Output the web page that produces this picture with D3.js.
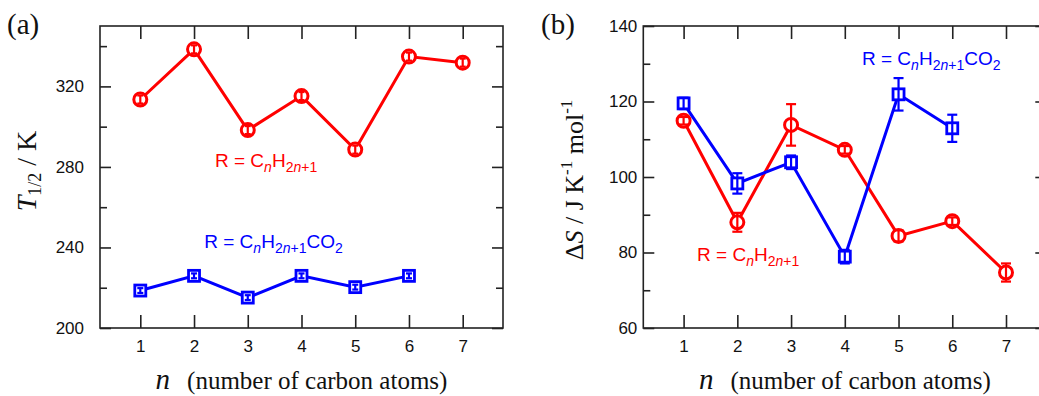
<!DOCTYPE html>
<meta charset="utf-8">
<script src="https://d3js.org/d3.v7.min.js"></script>
<style>
  body { margin: 0; background: #fff; }
  .tick text { font-family: "Liberation Sans", Arial, sans-serif; font-size: 17px; fill: #111; }
</style>
<div id="my_dataviz"></div>
<script>

  // n = number of carbon atoms
  var nVals = [1, 2, 3, 4, 5, 6, 7];
  var nValsAcid = [1, 2, 3, 4, 5, 6];

  // (a) T1/2 in K
  var tHalfAlkyl = [313.5, 338.4, 298.3, 315.2, 288.6, 334.8, 331.8];
  var tHalfAlkylErr = [2, 2, 2, 2, 2, 2, 2];
  var tHalfAcid = [218.6, 225.9, 215.1, 225.9, 220.3, 225.9];
  var tHalfAcidErr = [1.2, 1.2, 1.2, 1.2, 1.2, 1.2];

  // (b) delta S in J K-1 mol-1
  var dSAlkyl = [114.9, 88.0, 113.8, 107.2, 84.4, 88.3, 74.7];
  var dSAlkylErr = [1.0, 2.5, 5.5, 1.0, 1.5, 1.0, 2.4];
  var dSAcid = [119.5, 98.3, 103.9, 78.9, 121.9, 112.9];
  var dSAcidErr = [1.5, 2.7, 1.8, 1.8, 4.3, 3.6];

  var yTicksA = [200, 240, 280, 320];
  var yMinorA = [220, 260, 300, 340];
  var yTicksB = [60, 80, 100, 120, 140];
  var yMinorB = [70, 90, 110, 130];

  var RED = "#ff0000", BLUE = "#0000ff";
  var serif = "'Liberation Serif', 'Times New Roman', serif";
  var sans = "'Liberation Sans', Arial, sans-serif";

  var svg = d3.select("#my_dataviz")
    .append("svg")
    .attr("width", 1039)
    .attr("height", 396)
    .style("display", "block");

  function zip(xs, ys, es) {
    return xs.map(function (x, i) { return { x: x, y: ys[i], e: es[i] }; });
  }

  function drawPanel(opt) {
    var width = 403, height = 302;
    var g = svg.append("g")
      .attr("transform", "translate(" + opt.left + "," + opt.top + ")");

    var x = d3.scaleLinear().domain([0.25, 7.75]).range([0, width]);
    var y = d3.scaleLinear().domain(opt.yDomain).range([height, 0]);

    // ticks, all pointing inward
    var axes = [
      [d3.axisBottom(x).tickValues(nVals).tickSizeInner(-13).tickSizeOuter(0).tickPadding(12), "translate(0," + height + ")"],
      [d3.axisTop(x).tickValues(nVals).tickSizeInner(-13).tickSizeOuter(0).tickFormat(""), null],
      [d3.axisLeft(y).tickValues(opt.yTicks).tickSizeInner(-11).tickSizeOuter(0).tickPadding(opt.yPad), null],
      [d3.axisLeft(y).tickValues(opt.yMinor).tickSizeInner(-7).tickSizeOuter(0).tickFormat(""), null],
      [d3.axisRight(y).tickValues(opt.yTicks).tickSizeInner(-11).tickSizeOuter(0).tickFormat(""), "translate(" + width + ",0)"],
      [d3.axisRight(y).tickValues(opt.yMinor).tickSizeInner(-7).tickSizeOuter(0).tickFormat(""), "translate(" + width + ",0)"]
    ];
    axes.forEach(function (a) {
      var ag = g.append("g").call(a[0]);
      if (a[1]) ag.attr("transform", a[1]);
      ag.select(".domain").remove();
      ag.selectAll(".tick line").attr("stroke", "#222").attr("stroke-width", 1.6);
    });

    g.append("rect")
      .attr("width", width)
      .attr("height", height)
      .attr("fill", "none")
      .attr("stroke", "#222")
      .attr("stroke-width", 1.6);

    var line = d3.line()
      .x(function (d) { return x(d.x); })
      .y(function (d) { return y(d.y); });

    opt.series.forEach(function (s) {
      var pts = zip(s.xs, s.ys, s.es);
      g.append("path")
        .datum(pts)
        .attr("d", line)
        .attr("fill", "none")
        .attr("stroke", s.color)
        .attr("stroke-width", 3);

      if (s.shape === "circle") {
        g.selectAll(null).data(pts).enter().append("circle")
          .attr("cx", function (d) { return x(d.x); })
          .attr("cy", function (d) { return y(d.y); })
          .attr("r", 6.5)
          .attr("fill", "#fff")
          .attr("stroke", s.color)
          .attr("stroke-width", 3);
      } else {
        g.selectAll(null).data(pts).enter().append("rect")
          .attr("x", function (d) { return x(d.x) - 5.5; })
          .attr("y", function (d) { return y(d.y) - 5.5; })
          .attr("width", 11)
          .attr("height", 11)
          .attr("fill", "#fff")
          .attr("stroke", s.color)
          .attr("stroke-width", 2.8);
      }

      // error bars on top of markers
      var eb = g.selectAll(null).data(pts).enter().append("g")
        .attr("stroke", s.color)
        .attr("stroke-width", 2.2);
      eb.append("line")
        .attr("x1", function (d) { return x(d.x); })
        .attr("x2", function (d) { return x(d.x); })
        .attr("y1", function (d) { return y(d.y - d.e); })
        .attr("y2", function (d) { return y(d.y + d.e); });
      [-1, 1].forEach(function (sg) {
        eb.append("line")
          .attr("x1", function (d) { return x(d.x) - s.cap; })
          .attr("x2", function (d) { return x(d.x) + s.cap; })
          .attr("y1", function (d) { return y(d.y + sg * d.e); })
          .attr("y2", function (d) { return y(d.y + sg * d.e); });
      });
    });

    // formula labels
    opt.notes.forEach(function (nt) {
      var t = g.append("text")
        .attr("x", x(nt.x))
        .attr("y", y(nt.y))
        .attr("fill", nt.color)
        .style("font-family", sans)
        .style("font-size", "19px");
      t.append("tspan").text("R = C");
      t.append("tspan").attr("dy", 5).style("font-size", "14px").style("font-style", "italic").text("n");
      t.append("tspan").attr("dy", -5).text("H");
      t.append("tspan").attr("dy", 5).style("font-size", "14px").text("2");
      t.append("tspan").style("font-size", "14px").style("font-style", "italic").text("n");
      t.append("tspan").style("font-size", "14px").text("+1");
      if (nt.acid) {
        t.append("tspan").attr("dy", -5).text("CO");
        t.append("tspan").attr("dy", 5).style("font-size", "14px").text("2");
      }
    });

    // x title
    var xt = g.append("text")
      .attr("x", width / 2)
      .attr("y", 363)
      .attr("text-anchor", "middle")
      .style("font-family", serif)
      .style("font-size", "25px")
      .attr("fill", "#111");
    xt.append("tspan").style("font-style", "italic").style("font-size", "29px").text("n");
    xt.append("tspan").attr("dx", 17).text("(number of carbon atoms)");

    // panel letter
    svg.append("text")
      .attr("x", opt.letterX)
      .attr("y", 34)
      .style("font-family", serif)
      .style("font-size", "29px")
      .attr("fill", "#111")
      .text(opt.letter);

    return g;
  }

  drawPanel({
    left: 100, top: 26,
    yDomain: [200, 350], yTicks: yTicksA, yMinor: yMinorA, yPad: 16,
    letter: "(a)", letterX: 7,
    series: [
      { xs: nVals, ys: tHalfAlkyl, es: tHalfAlkylErr, color: RED, shape: "circle", cap: 3 },
      { xs: nValsAcid, ys: tHalfAcid, es: tHalfAcidErr, color: BLUE, shape: "square", cap: 3 }
    ],
    notes: [
      { x: 2.39, y: 280.2, color: RED, acid: false },
      { x: 2.19, y: 239.8, color: BLUE, acid: true }
    ]
  });

  drawPanel({
    left: 643.3, top: 26,
    yDomain: [60, 140], yTicks: yTicksB, yMinor: yMinorB, yPad: 6,
    letter: "(b)", letterX: 541,
    series: [
      { xs: nVals, ys: dSAlkyl, es: dSAlkylErr, color: RED, shape: "circle", cap: 5 },
      { xs: nValsAcid, ys: dSAcid, es: dSAcidErr, color: BLUE, shape: "square", cap: 5 }
    ],
    notes: [
      { x: 1.25, y: 77.7, color: RED, acid: false },
      { x: 4.32, y: 129.7, color: BLUE, acid: true }
    ]
  });

  // y titles
  var ya = svg.append("text")
    .attr("transform", "translate(36,171) rotate(-90)")
    .attr("text-anchor", "middle")
    .style("font-family", serif)
    .style("font-size", "28px")
    .attr("fill", "#111");
  ya.append("tspan").style("font-style", "italic").text("T");
  ya.append("tspan").attr("dy", 5).style("font-size", "18px").text("1/2");
  ya.append("tspan").attr("dy", -5).text(" / K");

  var yb = svg.append("text")
    .attr("transform", "translate(583,180) rotate(-90)")
    .attr("text-anchor", "middle")
    .style("font-family", serif)
    .style("font-size", "26px")
    .attr("fill", "#111");
  yb.append("tspan").text("\u0394");
  yb.append("tspan").style("font-style", "italic").text("S");
  yb.append("tspan").text(" / J K");
  yb.append("tspan").attr("dy", -11).style("font-size", "17px").text("-1");
  yb.append("tspan").attr("dy", 11).text(" mol");
  yb.append("tspan").attr("dy", -11).style("font-size", "17px").text("-1");

</script>
